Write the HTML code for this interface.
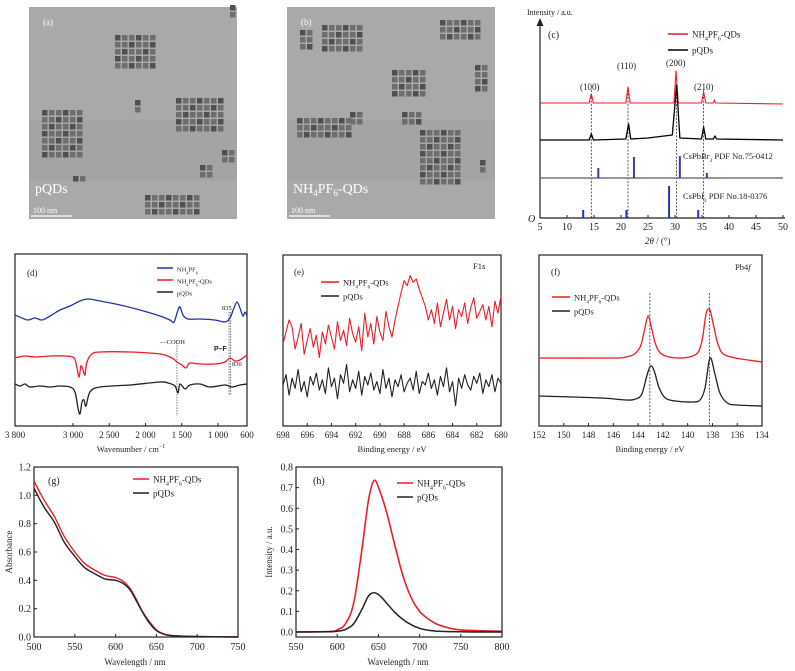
<!DOCTYPE html>
<html><head><meta charset="utf-8">
<style>
html,body{margin:0;padding:0;background:#fff;}
svg{display:block;font-family:"Liberation Serif",serif;}
</style></head>
<body>
<svg id="fig" width="795" height="671" viewBox="0 0 795 671" xmlns="http://www.w3.org/2000/svg">
<g id="tem"></g>
<g id="pc"></g>
<g id="pd"></g>
<g id="pe"></g>
<g id="pf"></g>
<g id="pg"></g>
<g id="ph"></g>
</svg>
<script>
// ---------- data ----------
// (c) XRD
const xrdRedX=[5,14.1,14.5,14.9,20.9,21.3,21.7,29.8,30.2,30.6,34.9,35.3,35.7,37.1,37.3,37.5,50];
const xrdRedY=[115,115,124,115,115,131,115,115,147,115,115,126,115,115,118,115,114];
const xrdBlkX=[5,14.1,14.5,14.9,20.9,21.4,21.8,25,29.5,30.3,30.9,34.9,35.3,35.7,37.1,37.4,37.7,50];
const xrdBlkY=[78,78,84,78,79,94,79,80,83,133,80,79,91,79,79,82,79,78];
const brPos=[15.8,22.4,30.9,35.9];
const brH=[10,21,22,5];
const iPos=[13,21,28.9,34.3];
const iH=[8,8,32,8];
const xrdTicks=[5,10,15,20,25,30,35,40,45,50];
const xrdLines=[14.5,21.3,30.3,35.3];
// (d) FTIR
const ftBlueX=[3800,3703,3621,3524,3428,3317,3179,3041,2904,2793,2628,2352,2076,1800,1662,1607,1552,1524,1483,1414,1248,1042,904,835,780,738,697,656,628,600];
const ftBlueY=[111,108,106,108,106,110,116,120,125,127,125,121,116,110,106,104,116,119,111,107,107,106,104,108,118,124,118,110,114,110];
const ftRedX=[3800,3662,3524,3317,3110,2986,2945,2917,2890,2862,2835,2807,2738,2628,2214,1800,1635,1566,1497,1442,1387,1248,1042,904,835,766,697,600];
const ftRedY=[68,70,69,70,70,68,58,49,60,56,51,64,72,74,74,72,68,64,61,58,63,62,62,64,68,65,66,71];
const ftBlkX=[3800,3731,3662,3593,3455,3317,3179,3041,2973,2931,2904,2876,2848,2821,2766,2628,2214,1800,1690,1593,1552,1524,1455,1387,1248,1111,904,807,697,600];
const ftBlkY=[42,40,42,39,40,39,40,39,34,18,12,24,26,20,34,39,41,44,43,40,33,42,37,41,42,39,41,39,41,42];
const ftTicks=[3800,3000,2500,2000,1500,1000,600];
const ftTickLabels=["3 800","3 000","2 500","2 000","1 500","1 000","600"];
// (e) F1s
const f1sStart=698, f1sStep=-0.25;
const f1sRed=[48,55,62,58,45,52,60,42,50,57,46,53,40,55,48,59,52,45,61,50,56,47,63,54,49,58,44,66,52,60,48,64,55,50,67,58,52,
62,70,78,85,82,88,84,86,80,75,70,62,
68,60,72,58,66,74,62,70,57,68,64,72,60,69,75,63,67,71,62,70,58,73,66,76];
const f1sBlk=[24,30,18,28,22,33,20,26,17,29,24,31,21,27,19,34,23,28,16,30,25,36,20,27,22,32,18,29,24,31,21,26,19,33,22,28,17,27,23,30,20,25,28,21,32,19,26,24,31,22,27,18,29,23,34,20,26,12,28,22,30,24,21,29,25,31,19,27,23,30,20,28,25];
const f1sTicks=[698,696,694,692,690,688,686,684,682,680];
// (f) Pb4f
const pbRedX=[152,146,145,144.3,143.8,143.5,143.2,142.9,142.6,142.2,141.5,140.5,139.6,139.1,138.8,138.5,138.2,137.9,137.5,136.8,134];
const pbRedY=[68,68,69,72,80,95,110,97,82,73,69,68,70,75,88,113,116,100,80,70,64];
const pbBlkX=[152,147,145,144.2,143.7,143.3,143.0,142.7,142.3,141.8,141,139.6,139,138.6,138.2,137.8,137.4,136.8,136,134];
const pbBlkY=[30,28,26,27,32,50,60,55,38,28,25,24,26,38,68,52,33,23,21,20];
const pbTicks=[152,150,148,146,144,142,140,138,136,134];
const pbLines=[143.05,138.25];
// (g) absorbance
const absX=[500,512,525,537,550,562,575,587,600,610,618,625,632,640,650,660,670,685,700,750];
const absRed=[1.10,0.97,0.85,0.71,0.60,0.52,0.47,0.435,0.42,0.39,0.34,0.27,0.19,0.12,0.05,0.02,0.01,0.006,0.004,0];
const absBlk=[1.05,0.92,0.81,0.67,0.57,0.49,0.445,0.41,0.40,0.375,0.33,0.26,0.185,0.11,0.045,0.018,0.009,0.005,0.003,0];
const absXTicks=[500,550,600,650,700,750];
const absYTicks=[0,0.2,0.4,0.6,0.8,1.0,1.2];
// (h) PL
const plX=[550,590,600,610,620,630,638,645,652,660,670,680,690,700,710,720,735,750,775,800];
const plRed=[0,0.002,0.01,0.04,0.14,0.40,0.64,0.735,0.68,0.58,0.42,0.27,0.165,0.10,0.065,0.04,0.02,0.01,0.006,0.004];
const plBlk=[0,0.001,0.004,0.012,0.04,0.11,0.175,0.19,0.175,0.14,0.095,0.06,0.035,0.018,0.009,0.004,0.002,0.001,0,0];
const plXTicks=[550,600,650,700,750,800];
const plYTicks=[0,0.1,0.2,0.3,0.4,0.5,0.6,0.7,0.8];

// ---------- helpers ----------
const NS="http://www.w3.org/2000/svg";
function mk(parent,tag,attrs,text){const e=document.createElementNS(NS,tag);for(const k in attrs)e.setAttribute(k,attrs[k]);if(text!==undefined)e.textContent=text;parent.appendChild(e);return e;}
function lin(d0,d1,r0,r1){return v=>r0+(v-d0)*(r1-r0)/(d1-d0);}
function linePath(xs,ys,sx,sy){return xs.map((x,i)=>(i?"L":"M")+sx(x).toFixed(2)+" "+sy(ys[i]).toFixed(2)).join(" ");}
function smoothPath(xs,ys,sx,sy){const p=xs.map((x,i)=>[sx(x),sy(ys[i])]);let d="M"+p[0][0].toFixed(2)+" "+p[0][1].toFixed(2);
 for(let i=0;i<p.length-1;i++){const p0=p[i-1]||p[i],p1=p[i],p2=p[i+1],p3=p[i+2]||p2;
 const c1=[p1[0]+(p2[0]-p0[0])/6,p1[1]+(p2[1]-p0[1])/6],c2=[p2[0]-(p3[0]-p1[0])/6,p2[1]-(p3[1]-p1[1])/6];
 d+=" C"+c1.map(v=>v.toFixed(2)).join(" ")+" "+c2.map(v=>v.toFixed(2)).join(" ")+" "+p2[0].toFixed(2)+" "+p2[1].toFixed(2);}return d;}
function frame(g,x0,y0,x1,y1){const r=mk(g,"rect",{x:x0,y:y0,width:x1-x0,height:y1-y0,fill:"none",stroke:"#222","stroke-width":1.2});
 
 }
function xticks(g,vals,labels,sx,yb,size,ly){vals.forEach((v,i)=>{const x=sx(v);mk(g,"line",{x1:x,x2:x,y1:yb,y2:yb-3,stroke:"#222","stroke-width":1});
 const t=mk(g,"text",{x:x,y:ly,"text-anchor":"middle","font-size":size,fill:"#222"},labels?labels[i]:String(v));
 
 });}
function yticks(g,vals,sy,xl,size,fmt){vals.forEach(v=>{const y=sy(v);mk(g,"line",{x1:xl,x2:xl+3,y1:y,y2:y,stroke:"#222","stroke-width":1});
 const t=mk(g,"text",{x:xl-3,y:y+3.5,"text-anchor":"end","font-size":size,fill:"#222"},fmt(v));
 
 });}
function txt(g,x,y,s,size,name,extra){const t=mk(g,"text",Object.assign({x:x,y:y,"font-size":size,fill:"#222"},extra||{}));t.innerHTML=s;
 
 return t;}
function legend(g,x,y,color,label,size,len,name){const l=mk(g,"line",{x1:x,x2:x+len,y1:y,y2:y,stroke:color,"stroke-width":1.5});
 
 
 txt(g,x+len+4,y+3.5,label,size,name);}
function series(g,d,color,name,w){const p=mk(g,"path",{d:d,fill:"none",stroke:color,"stroke-width":w||1.3,"stroke-linejoin":"round"});
 
 return p;}
const NHPF='NH<tspan font-size="65%" dy="3">4</tspan><tspan dy="-3">PF</tspan><tspan font-size="65%" dy="3">6</tspan><tspan dy="-3">-QDs</tspan>';
const NHPF0='NH<tspan font-size="65%" dy="3">4</tspan><tspan dy="-3">PF</tspan><tspan font-size="65%" dy="3">6</tspan>';
const RED="#ee1c25", BLK="#222", BLUE="#2233aa";

// ---------- TEM ----------
(function(){const g=document.getElementById("tem");
 const imgs=[{x:29,lab:"(a)",name:"tem-image-a",cap:"pQDs",clusters:[[115,35,6,5],[42,110,6,7],[176,98,7,5],[145,195,8,3],[222,150,2,2],[230,5,1,2],[135,100,1,2],[200,165,2,2],[73,176,2,1]]},
 {x:287,lab:"(b)",name:"tem-image-b",cap:NHPF,clusters:[[322,25,6,4],[392,70,5,4],[297,118,8,3],[420,130,6,8],[440,20,6,3],[475,65,2,4],[350,112,2,2],[402,112,3,2],[300,30,2,3],[480,160,1,2]]}];
 imgs.forEach(im=>{const r=mk(g,"rect",{x:im.x,y:7,width:208,height:212,fill:"#a9a9a9"});
  
  
  mk(g,"rect",{x:im.x,y:120,width:208,height:60,fill:"#a2a2a2",opacity:0.6});
  im.clusters.forEach(c=>{for(let i=0;i<c[2];i++)for(let j=0;j<c[3];j++){const x=c[0]+i*7,y=c[1]+j*7;if(x+6>im.x+208||y+6>219)continue;
   mk(g,"rect",{x:x,y:y,width:5.5,height:5.5,fill:((i+j)%3==0)?"#505050":"#6e6e6e"});}});
  txt(g,im.x+14,25,im.lab,9,"tem-label",{fill:"#fff"});
  txt(g,im.x+6,193,im.cap,14,"tem-caption",{fill:"#fff"});
  mk(g,"line",{x1:im.x+2,x2:im.x+43,y1:216,y2:216,stroke:"#fff","stroke-width":1.2});
  txt(g,im.x+4,213,"100 nm",8,"scale-bar-label",{fill:"#fff"});
 });})();

// ---------- (c) ----------
(function(){const g=document.getElementById("pc");
 const sx=lin(5,50,540,783), sy=lin(0,196,218,22);
 mk(g,"line",{x1:540,x2:540,y1:218,y2:20,stroke:"#222","stroke-width":1.2});
 mk(g,"path",{d:"M536.5 26 L540 18 L543.5 26 Z",fill:"#222"});
 mk(g,"line",{x1:540,x2:785,y1:218,y2:218,stroke:"#222","stroke-width":1.2});
 xticks(g,xrdTicks,null,sx,218,10,230);
 txt(g,527,15,"Intensity / a.u.",8,"y-axis-title");
 txt(g,528,222,"O",10,"origin-label",{"font-style":"italic"});
 txt(g,645,244,'<tspan font-style="italic">2θ</tspan> / (°)',9,"x-axis-title");
 txt(g,548,38,"(c)",10,"panel-label");
 xrdLines.forEach(v=>mk(g,"line",{x1:sx(v),x2:sx(v),y1:90,y2:218,stroke:"#333","stroke-width":0.8,"stroke-dasharray":"2,1.5"}));
 mk(g,"line",{x1:540,x2:783,y1:sy(40),y2:sy(40),stroke:"#777","stroke-width":1.5});
 brPos.forEach((v,i)=>{const b=mk(g,"rect",{x:sx(v)-1,y:sy(40+brH[i]),width:2,height:sy(40)-sy(40+brH[i]),fill:"#4433bb"});
  
  });
 iPos.forEach((v,i)=>{const b=mk(g,"rect",{x:sx(v)-1,y:sy(iH[i]),width:2,height:sy(0)-sy(iH[i]),fill:"#2233bb"});
  
  });
 series(g,linePath(xrdRedX,xrdRedY,sx,sy),RED,"series-nh4pf6-qds",1.1);
 series(g,linePath(xrdBlkX,xrdBlkY,sx,sy),"#000","series-pqds",1.3);
 txt(g,580,90,"(100)",9,"peak-label-100");txt(g,617,69,"(110)",9,"peak-label-110");
 txt(g,666,66,"(200)",9,"peak-label-200");txt(g,694,90,"(210)",9,"peak-label-210");
 txt(g,683,159,'CsPbBr<tspan font-size="65%" dy="3">3</tspan><tspan dy="-3"> PDF No.75-0412</tspan>',8.5,"ref-label-cspbbr3");
 txt(g,683,199,'CsPbI<tspan font-size="65%" dy="3">3</tspan><tspan dy="-3"> PDF No.18-0376</tspan>',8.5,"ref-label-cspbi3");
 legend(g,668,34,RED,NHPF,9,20,"legend-nh4pf6-qds");
 legend(g,668,50,"#000","pQDs",9,20,"legend-pqds");
})();

// ---------- (d) ----------
(function(){const g=document.getElementById("pd");
 const sx=lin(3800,600,15,247), sy=lin(0,172,426,254);
 frame(g,15,254,247,426);
 xticks(g,ftTicks,ftTickLabels,sx,426,9,438);
 txt(g,131,452,'Wavenumber / cm<tspan font-size="70%" dy="-4">−1</tspan>',8.5,"x-axis-title",{"text-anchor":"middle"});
 txt(g,27,276,"(d)",9,"panel-label");
 [1566,830,848].forEach(v=>mk(g,"line",{x1:sx(v),x2:sx(v),y1:v==1566?340:312,y2:v==1566?416:395,stroke:"#444","stroke-width":0.7,"stroke-dasharray":"1.5,1.2"}));
 series(g,smoothPath(ftBlueX,ftBlueY,sx,sy),BLUE,"series-nh4pf6",1.3);
 series(g,smoothPath(ftRedX,ftRedY,sx,sy),RED,"series-nh4pf6-qds",1.3);
 series(g,smoothPath(ftBlkX,ftBlkY,sx,sy),BLK,"series-pqds",1.3);
 txt(g,160,344,"—COOH",6.5,"annotation-cooh");
 txt(g,214,351,"P–F",7,"annotation-pf",{"font-family":"Liberation Sans, sans-serif","font-weight":"bold"});
 txt(g,222,310,"835",6.5,"annotation-835");txt(g,232,366,"830",6.5,"annotation-830");
 legend(g,157,268,BLUE,NHPF0,6.5,16,"legend-nh4pf6");
 legend(g,157,280,RED,NHPF,6.5,16,"legend-nh4pf6-qds");
 legend(g,157,292,BLK,"pQDs",6.5,16,"legend-pqds");
})();

// ---------- (e) ----------
(function(){const g=document.getElementById("pe");
 const sx=lin(698,680,283,501), sy=lin(0,100,426,255);
 frame(g,283,255,501,426);
 xticks(g,f1sTicks,null,sx,426,9,438);
 txt(g,392,452,"Binding energy / eV",8.5,"x-axis-title",{"text-anchor":"middle"});
 txt(g,294,275,"(e)",9,"panel-label");
 txt(g,473,269,'F1<tspan font-style="italic">s</tspan>',8.5,"core-level-label");
 const xs=f1sRed.map((v,i)=>f1sStart+i*f1sStep);
 series(g,linePath(xs,f1sRed,sx,sy),RED,"series-nh4pf6-qds",1.1);
 series(g,linePath(xs,f1sBlk,sx,sy),BLK,"series-pqds",1.1);
 legend(g,321,282,RED,NHPF,8.5,18,"legend-nh4pf6-qds");
 legend(g,321,296,BLK,"pQDs",8.5,18,"legend-pqds");
})();

// ---------- (f) ----------
(function(){const g=document.getElementById("pf");
 const sx=lin(152,134,539,762), sy=lin(0,171,426,255);
 frame(g,539,255,762,426);
 xticks(g,pbTicks,null,sx,426,9,438);
 txt(g,650,452,"Binding energy / eV",8.5,"x-axis-title",{"text-anchor":"middle"});
 txt(g,551,275,"(f)",9,"panel-label");
 txt(g,735,270,'Pb4<tspan font-style="italic">f</tspan>',8.5,"core-level-label");
 pbLines.forEach(v=>mk(g,"line",{x1:sx(v),x2:sx(v),y1:293,y2:426,stroke:"#333","stroke-width":0.8,"stroke-dasharray":"2,1.5"}));
 series(g,smoothPath(pbRedX,pbRedY,sx,sy),RED,"series-nh4pf6-qds",1.3);
 series(g,smoothPath(pbBlkX,pbBlkY,sx,sy),BLK,"series-pqds",1.3);
 legend(g,552,297,RED,NHPF,8.5,18,"legend-nh4pf6-qds");
 legend(g,552,311,BLK,"pQDs",8.5,18,"legend-pqds");
})();

// ---------- (g) ----------
(function(){const g=document.getElementById("pg");
 const sx=lin(500,750,34,238), sy=lin(0,1.2,637,467);
 frame(g,34,467,238,637);
 xticks(g,absXTicks,null,sx,637,10,650);
 yticks(g,absYTicks,sy,34,10,v=>v.toFixed(1));
 txt(g,135,665,"Wavelength / nm",9,"x-axis-title",{"text-anchor":"middle"});
 txt(g,12,552,"Absorbance",9,"y-axis-title",{"text-anchor":"middle",transform:"rotate(-90 12 552)"});
 txt(g,48,484,"(g)",10,"panel-label");
 series(g,smoothPath(absX,absRed,sx,sy),RED,"series-nh4pf6-qds",1.4);
 series(g,smoothPath(absX,absBlk,sx,sy),BLK,"series-pqds",1.4);
 legend(g,133,479,RED,NHPF,9,16,"legend-nh4pf6-qds");
 legend(g,133,493,BLK,"pQDs",9,16,"legend-pqds");
})();

// ---------- (h) ----------
(function(){const g=document.getElementById("ph");
 const sx=lin(550,800,296,502), sy=lin(0,0.8,632,467);
 frame(g,296,467,502,637);
 xticks(g,plXTicks,null,sx,637,10,650);
 yticks(g,plYTicks,sy,296,10,v=>v.toFixed(1));
 txt(g,398,665,"Wavelength / nm",9,"x-axis-title",{"text-anchor":"middle"});
 txt(g,272,552,"Intensity / a.u.",9,"y-axis-title",{"text-anchor":"middle",transform:"rotate(-90 272 552)"});
 txt(g,313,484,"(h)",10,"panel-label");
 series(g,smoothPath(plX,plRed,sx,sy),RED,"series-nh4pf6-qds",1.6);
 series(g,smoothPath(plX,plBlk,sx,sy),BLK,"series-pqds",1.5);
 legend(g,397,483,RED,NHPF,9,16,"legend-nh4pf6-qds");
 legend(g,397,497,BLK,"pQDs",9,16,"legend-pqds");
})();
</script>
</body></html>
